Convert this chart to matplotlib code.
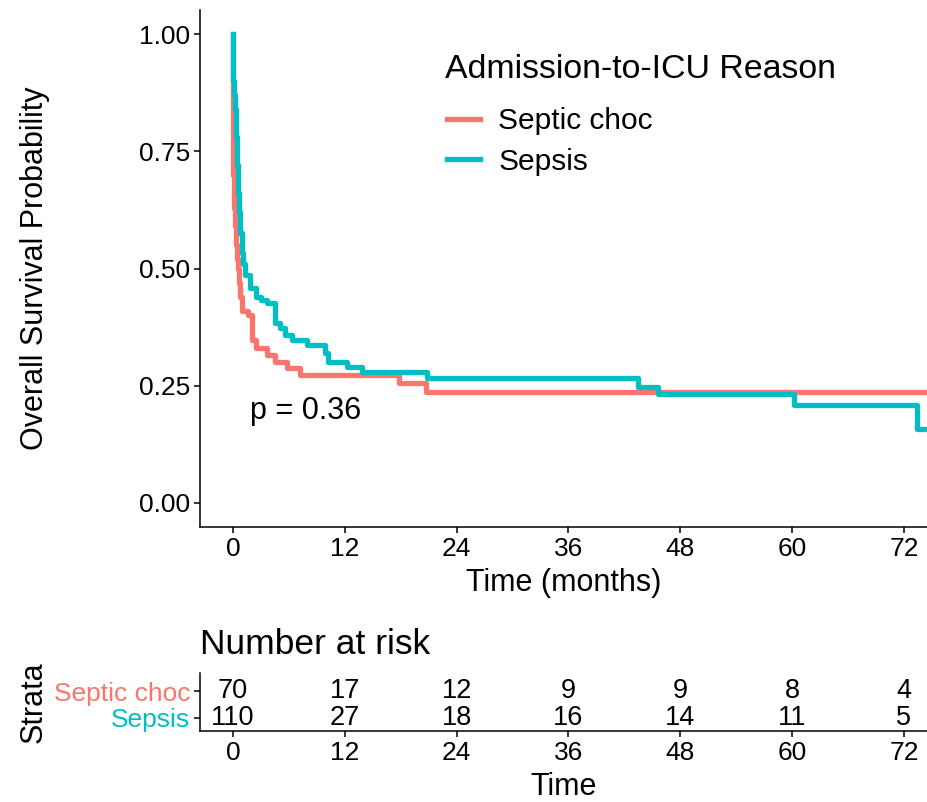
import matplotlib
matplotlib.use("Agg")
import matplotlib.pyplot as plt
from matplotlib.lines import Line2D

plt.rcParams['font.family'] = ['Liberation Sans', 'DejaVu Sans']

# Kaplan-Meier estimates (months, survival)
septic_time = [0, 0.02, 0.1, 0.2, 0.3, 0.4, 0.5, 0.65, 0.8, 0.93, 1.64, 2.0,
               2.5, 3.6, 4.5, 5.76, 7.2, 17.8, 20.7, 80]
septic_surv = [1.0, 0.70, 0.63, 0.59, 0.55, 0.52, 0.50, 0.47, 0.44, 0.41, 0.40, 0.347,
               0.33, 0.316, 0.301, 0.288, 0.273, 0.256, 0.237, 0.237]

sepsis_time = [0, 0.02, 0.1, 0.2, 0.3, 0.4, 0.5, 0.6, 0.75, 0.93, 1.1, 1.29, 1.8,
               2.5, 3.05, 3.6, 4.5, 5.0, 5.6, 6.3, 7.9, 9.9, 10.2, 12.2, 13.8,
               20.8, 43.5, 45.6, 60.2, 73.4, 80]
sepsis_surv = [1.0, 0.90, 0.87, 0.84, 0.78, 0.72, 0.66, 0.62, 0.575, 0.533, 0.51, 0.486, 0.458,
               0.44, 0.433, 0.426, 0.383, 0.373, 0.358, 0.348, 0.337, 0.32, 0.301, 0.29, 0.28,
               0.266, 0.248, 0.232, 0.209, 0.158, 0.158]

strata = ['Septic choc', 'Sepsis']
colors = ['#F8766D', '#00BFC4']
risk_times = [0, 12, 24, 36, 48, 60, 72]
risk_septic = [70, 17, 12, 9, 9, 8, 4]
risk_sepsis = [110, 27, 18, 16, 14, 11, 5]
pval_text = 'p = 0.36'
pval_x, pval_y = 1.8, 0.196

W, H = 928, 802
fig = plt.figure(figsize=(W / 100, H / 100), dpi=100)

xlim = (-3.54, 74.58)

# main survival plot
ax = fig.add_axes([200 / W, 1 - 527 / H, 728 / W, 517 / H])
ax.step(septic_time, septic_surv, where='post', color=colors[0], lw=3.8,
        solid_joinstyle='round', label=strata[0])
ax.step(sepsis_time, sepsis_surv, where='post', color=colors[1], lw=3.8,
        solid_joinstyle='round', label=strata[1])
ax.set_xlim(*xlim)
ax.set_ylim(-0.0512, 1.0512)
ax.set_xticks(risk_times)
ax.set_yticks([0, 0.25, 0.5, 0.75, 1.0])
ax.set_yticklabels(['0.00', '0.25', '0.50', '0.75', '1.00'])
for s in ['top', 'right']:
    ax.spines[s].set_visible(False)
for s in ['left', 'bottom']:
    ax.spines[s].set_linewidth(1.1)
ax.tick_params(labelsize=19, length=4, width=1.1, colors='black', pad=3)
ax.set_xlabel('Time (months)', fontsize=22, labelpad=5.5)
ax.set_ylabel('Overall Survival Probability', fontsize=22, labelpad=64)
ax.text(pval_x, pval_y, pval_text, fontsize=22, ha='left', va='center')

# legend (title drawn separately to match ggplot spacing)
handles = [Line2D([], [], color=c, lw=3.8) for c in colors]
ax.legend(handles, strata, loc='upper left',
          bbox_to_anchor=(447 / W, 1 - 107 / H), bbox_transform=fig.transFigure,
          frameon=False, fontsize=21.5,
          handlelength=1.1, handletextpad=0.62, labelspacing=0.42,
          borderpad=0, borderaxespad=0)
fig.text(445 / W, 1 - 70 / H, 'Admission-to-ICU Reason', fontsize=24.4,
         ha='left', va='center')

# risk table
rt = fig.add_axes([200 / W, 1 - 731 / H, 728 / W, 58 / H])
rt.set_xlim(*xlim)
rt.set_ylim(0.5, 2.7)
for t, a, b in zip(risk_times, risk_septic, risk_sepsis):
    rt.text(t, 2, str(a), ha='center', va='center', fontsize=19.5)
    rt.text(t, 1, str(b), ha='center', va='center', fontsize=19.5)
rt.set_xticks(risk_times)
rt.set_yticks([2, 1])
rt.set_yticklabels(strata)
for lab, c in zip(rt.get_yticklabels(), colors):
    lab.set_color(c)
for s in ['top', 'right']:
    rt.spines[s].set_visible(False)
for s in ['left', 'bottom']:
    rt.spines[s].set_linewidth(1.1)
rt.tick_params(labelsize=19, length=4, width=1.1, pad=3)
rt.set_xlabel('Time', fontsize=22, labelpad=5.5)
rt.set_ylabel('Strata', fontsize=22, labelpad=4)
rt.set_title('Number at risk', fontsize=25.5, loc='left', pad=14)

fig.savefig('out.png', dpi=100)
